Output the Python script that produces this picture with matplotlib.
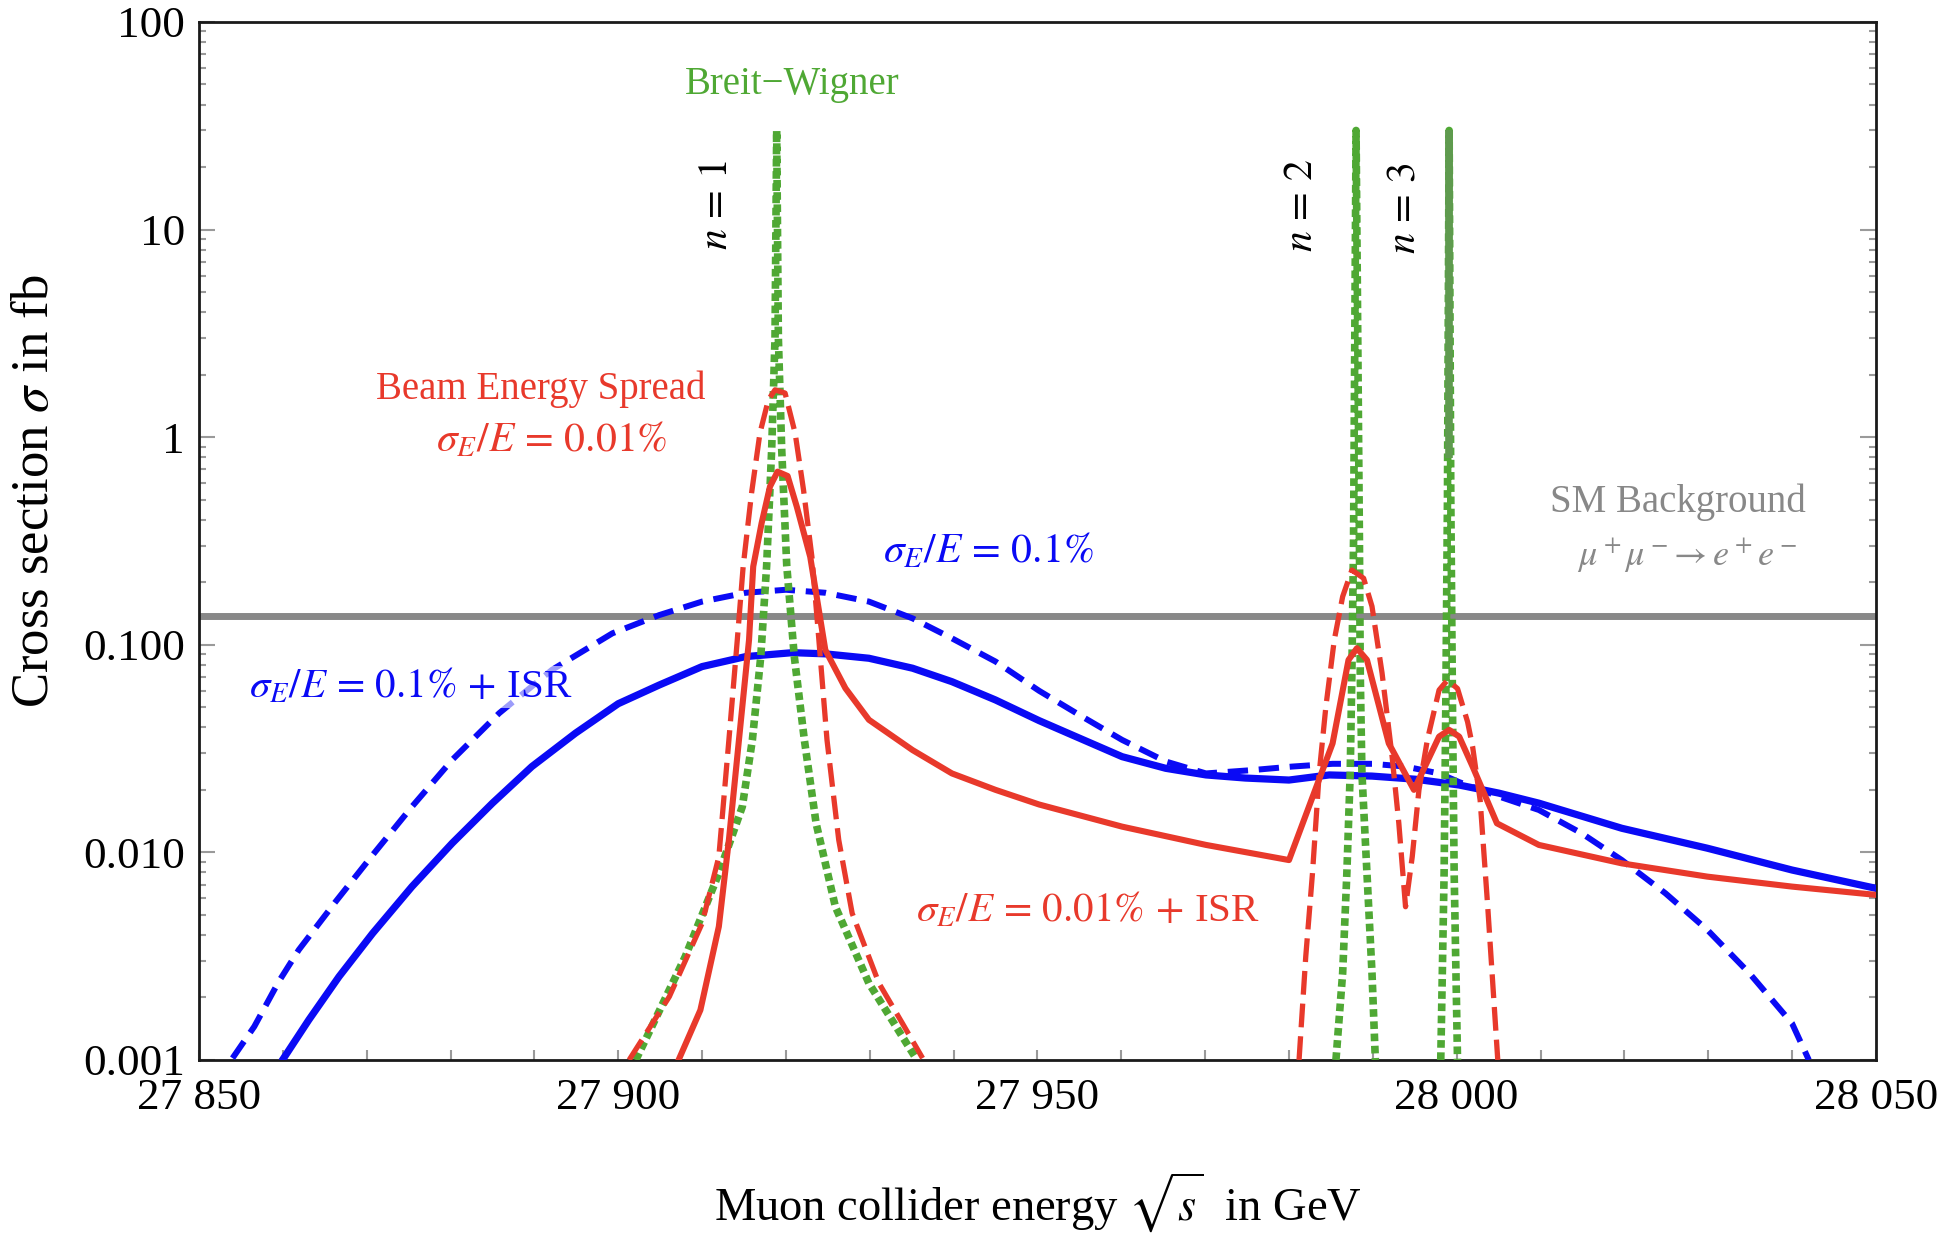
import matplotlib
matplotlib.use("Agg")
import matplotlib.pyplot as plt
import numpy as np
from matplotlib.ticker import FixedLocator, FixedFormatter, LogLocator, NullFormatter, MultipleLocator

plt.rcParams["font.family"] = ["Liberation Serif", "DejaVu Serif"]
plt.rcParams["mathtext.fontset"] = "stix"

# SM background mu+ mu- -> e+ e- (flat)
sm_background = 0.138

# sigma_E/E = 0.1%, no ISR (blue dashed)
blue_dash_x = [27854.0, 27856.6, 27859.5, 27861.9, 27866.3, 27870.7, 27875.4, 27880.2, 27885.8,
               27892.1, 27899.3, 27904.9, 27910.0, 27915.2, 27920.0, 27924.7, 27929.9, 27935.1,
               27939.8, 27945.0, 27950.2, 27955.0, 27960.1, 27965.3, 27970.1, 27975.6, 27980.4,
               27985.2, 27989.9, 27993.9, 27997.9, 28000.3, 28005.0, 28009.8, 28014.9, 28019.7,
               28024.9, 28029.9, 28034.9, 28040.0, 28042.0]
blue_dash_y = [0.00102, 0.00145, 0.00238, 0.00339, 0.00579, 0.0097, 0.0166, 0.0279, 0.0468,
               0.0757, 0.1135, 0.139, 0.1614, 0.178, 0.184, 0.178, 0.1614, 0.134,
               0.1074, 0.083, 0.060, 0.0459, 0.0348, 0.0274, 0.0240, 0.0249, 0.0259,
               0.0267, 0.0267, 0.0259, 0.0240, 0.0218, 0.0186, 0.0160, 0.01236, 0.00918,
               0.00635, 0.00423, 0.00262, 0.00150, 0.00100]

# sigma_E/E = 0.1% + ISR (blue solid)
blue_isr_x = [27860.1, 27863.1, 27866.7, 27870.7, 27875.4, 27880.2, 27885.0, 27889.7, 27894.9,
              27900.0, 27904.9, 27910.0, 27915.2, 27920.8, 27924.7, 27929.9, 27935.1, 27939.8,
              27945.0, 27950.2, 27955.0, 27960.1, 27965.3, 27970.1, 27974.8, 27980.0, 27984.8,
              27989.9, 27995.1, 28000.3, 28005.0, 28009.8, 28019.7, 28029.9, 28040.0, 28050.0]
blue_isr_y = [0.00102, 0.00156, 0.00252, 0.00407, 0.00684, 0.01107, 0.01726, 0.0259, 0.0375,
              0.0520, 0.064, 0.0785, 0.0877, 0.0916, 0.0904, 0.0861, 0.0771, 0.0664,
              0.0542, 0.0431, 0.0355, 0.0289, 0.0254, 0.0236, 0.0228, 0.0223, 0.0236,
              0.0233, 0.0225, 0.0211, 0.0193, 0.01726, 0.01306, 0.01047, 0.00822, 0.00671]

# sigma_E/E = 0.01%, no ISR (red dashed); nan = below the plot range
red_dash_x = [27901.3, 27906.1, 27910.0, 27912.0, 27913.2, 27914.2, 27914.9, 27915.9, 27916.9,
              27917.9, 27918.7, 27919.9, 27921.1, 27922.1, 27923.1, 27923.9, 27924.9, 27926.3,
              27927.9, 27931.1, 27933.9, 27936.3, np.nan,
              27981.2, 27982.0, 27982.8, 27983.6, 27984.4, 27985.4, 27986.4, 27987.5, 27988.9,
              27989.9, 27991.1, 27992.3, 27993.1, 27993.9, 27994.7, 27995.5, 27996.5, 27997.9,
              27998.9, 28000.1, 28001.3, 28001.9, 28002.8, 28003.7, 28004.9]
red_dash_y = [0.00100, 0.00202, 0.00455, 0.00953, 0.0348, 0.1054, 0.238, 0.537, 1.045,
              1.51, 1.69, 1.63, 1.045, 0.557, 0.265, 0.1094, 0.0348, 0.01148,
              0.00509, 0.00234, 0.00150, 0.00102, np.nan,
              0.00100, 0.00315, 0.00792, 0.0240, 0.0504, 0.1054, 0.1706, 0.229, 0.209,
              0.153, 0.0730, 0.0289, 0.01380, 0.00547, 0.00953, 0.0200, 0.0348, 0.0605,
              0.0676, 0.0615, 0.0425, 0.0323, 0.0178, 0.00550, 0.00100]

# sigma_E/E = 0.01% + ISR (red solid)
red_isr_x = [27907.2, 27909.8, 27912.0, 27913.2, 27914.4, 27915.6, 27916.1, 27917.1, 27918.1,
             27919.0, 27920.2, 27921.3, 27922.9, 27924.7, 27927.1, 27929.9, 27935.1, 27939.8,
             27945.0, 27950.2, 27960.1, 27970.1, 27980.0, 27985.2, 27987.1, 27988.1, 27989.3,
             27991.9, 27994.9, 27997.9, 27999.1, 28000.3, 28001.9, 28004.8, 28009.8, 28019.7,
             28029.9, 28040.0, 28050.0]
red_isr_y = [0.00100, 0.00174, 0.00439, 0.01148, 0.0348, 0.1054, 0.238, 0.385, 0.578,
             0.682, 0.650, 0.462, 0.265, 0.0944, 0.0617, 0.0435, 0.0311, 0.0240,
             0.0200, 0.0170, 0.0133, 0.01086, 0.00918, 0.0335, 0.0845, 0.0962, 0.0845,
             0.0335, 0.0200, 0.0361, 0.0389, 0.0361, 0.0259, 0.0138, 0.01086, 0.00885,
             0.00764, 0.00684, 0.00624]

# Breit-Wigner resonances n = 1, 2, 3 (green dotted), cut at 30 fb
bw_n1_x = [27902.1, 27908.0, 27912.0, 27914.8, 27916.0, 27917.0, 27917.7, 27918.3, 27918.7,
           27918.9, 27919.1, 27919.5, 27920.1, 27921.0, 27922.2, 27923.6, 27925.9, 27929.9, 27935.5]
bw_n1_y = [0.00100, 0.00315, 0.00792, 0.0166, 0.0348, 0.0877, 0.24, 0.87, 3.0,
           30.0, 3.0, 0.87, 0.24, 0.0877, 0.0348, 0.0138, 0.00547, 0.00234, 0.00102]
bw_n2_x = [27985.6, 27986.4, 27986.9, 27987.3, 27987.5, 27987.7, 27988.0,
           27988.4, 27988.5, 27988.7, 27989.3, 27989.9, 27990.3]
bw_n2_y = [0.00100, 0.00262, 0.00792, 0.0240, 0.0730, 0.32, 30.0,
           0.32, 0.0730, 0.0240, 0.00792, 0.00262, 0.00100]
bw_n3_x = [27998.1, 27998.5, 27998.7, 27998.9, 27999.1, 27999.3, 27999.5, 27999.7, 28000.1]
bw_n3_y = [0.00100, 0.00792, 0.0504, 0.5, 30.0, 0.5, 0.0504, 0.00792, 0.00100]
bw_n3_merge = 0.79  # above this the two flanks of n = 3 merge into one solid stroke

y_ticks = [0.001, 0.01, 0.1, 1, 10, 100]
y_tick_labels = ["0.001", "0.010", "0.100", "1", "10", "100"]
x_ticks = [27850, 27900, 27950, 28000, 28050]
x_tick_labels = ["27 850", "27 900", "27 950", "28 000", "28 050"]

BLUE = "#0a0af5"
RED = "#e8392b"
GREEN = "#4fa834"
GREEN_DARK = "#5f9a4f"
GRAY = "#888888"

fig = plt.figure(figsize=(19.49, 12.39), dpi=100)
ax = fig.add_axes([0.1021, 0.1445, 0.8604, 0.8378])
ax.set_yscale("log")
ax.set_xlim(27850, 28050)
ax.set_ylim(1e-3, 100)

ax.axhline(sm_background, color=GRAY, lw=5, zorder=2)

dotted = dict(color=GREEN, lw=5.5, linestyle=(0, (1.0, 0.6)), zorder=4)
ax.plot(bw_n1_x, bw_n1_y, **dotted)
ax.plot(bw_n2_x, bw_n2_y, **dotted)
ax.plot(bw_n3_x, bw_n3_y, **dotted)
n3_peak = int(np.argmax(bw_n3_y))
ax.vlines(bw_n3_x[n3_peak], bw_n3_merge, bw_n3_y[n3_peak], color=GREEN_DARK, lw=5.5, zorder=4)

ax.plot(blue_dash_x, blue_dash_y, color=BLUE, lw=4.3, dashes=(3.4, 1.8), zorder=3)
ax.plot(blue_isr_x, blue_isr_y, color=BLUE, lw=5.2, zorder=3, solid_joinstyle="round")
ax.plot(red_dash_x, red_dash_y, color=RED, lw=3.8, dashes=(4.5, 1.7), zorder=5)
ax.plot(red_isr_x, red_isr_y, color=RED, lw=4.4, zorder=5, solid_joinstyle="round")

# annotations
ax.text(27920.8, 50.0, "Breit\u2212Wigner", color=GREEN, fontsize=28, ha="center", va="center")
ax.text(27911.8, 13.1, r"$n\,=\,1$", rotation=90, fontsize=30, ha="center", va="center")
ax.text(27981.5, 13.1, r"$n\,=\,2$", rotation=90, fontsize=30, ha="center", va="center")
ax.text(27993.8, 12.6, r"$n\,=\,3$", rotation=90, fontsize=30, ha="center", va="center")
ax.text(27890.8, 1.70, "Beam Energy Spread", color=RED, fontsize=28, ha="center", va="center")
ax.text(27892.1, 0.96, r"$\sigma_E/E\,=\,0.01\%$", color=RED, fontsize=30, ha="center", va="center")
ax.text(27944.1, 0.283, r"$\sigma_E/E\,=\,0.1\%$", color=BLUE, fontsize=30, ha="center", va="center")
ax.text(28026.4, 0.488, "SM Background", color=GRAY, fontsize=28, ha="center", va="center")
ax.text(28027.5, 0.268, r"$\mu^+\mu^-\!\rightarrow e^+e^-$", color=GRAY, fontsize=26, ha="center", va="center")
ax.text(27875.2, 0.0627, r"$\sigma_E/E\,=\,0.1\%\,+\,$ISR", color=BLUE, fontsize=29.5, ha="center", va="center",
        zorder=6, bbox=dict(facecolor="white", edgecolor="none", alpha=0.6, pad=1))
ax.text(27956.0, 0.00522, r"$\sigma_E/E\,=\,0.01\%\,+\,$ISR", color=RED, fontsize=29.5, ha="center", va="center")

# axes styling
ax.yaxis.set_major_locator(FixedLocator(y_ticks))
ax.yaxis.set_major_formatter(FixedFormatter(y_tick_labels))
ax.yaxis.set_minor_locator(LogLocator(base=10, subs=np.arange(2, 10)))
ax.yaxis.set_minor_formatter(NullFormatter())
ax.xaxis.set_major_locator(FixedLocator(x_ticks))
ax.xaxis.set_major_formatter(FixedFormatter(x_tick_labels))
ax.xaxis.set_minor_locator(MultipleLocator(10))

ax.tick_params(which="both", direction="in", color="#9a9a9a", width=1.5, labelsize=32.5,
               left=True, right=True, top=True, bottom=True)
ax.tick_params(axis="y", which="major", length=11.5, pad=10)
ax.tick_params(axis="y", which="minor", length=5)
ax.tick_params(axis="x", which="major", length=7, pad=13)
ax.tick_params(axis="x", which="minor", length=7)
ax.tick_params(axis="x", which="both", top=False)

for spine in ax.spines.values():
    spine.set_edgecolor("#1a1a1a")
    spine.set_linewidth(2)

ax.set_xlabel(r"Muon collider energy $\sqrt{s}$  in GeV", fontsize=33.5)
ax.xaxis.label.set_va("center")
ax.xaxis.set_label_coords(0.5, -0.138)
ax.set_ylabel(r"Cross section $\sigma$ in fb", fontsize=38)
ax.yaxis.label.set_va("center")
ax.yaxis.set_label_coords(-0.098, 0.548)

fig.savefig("out.png", dpi=100, facecolor="white")
